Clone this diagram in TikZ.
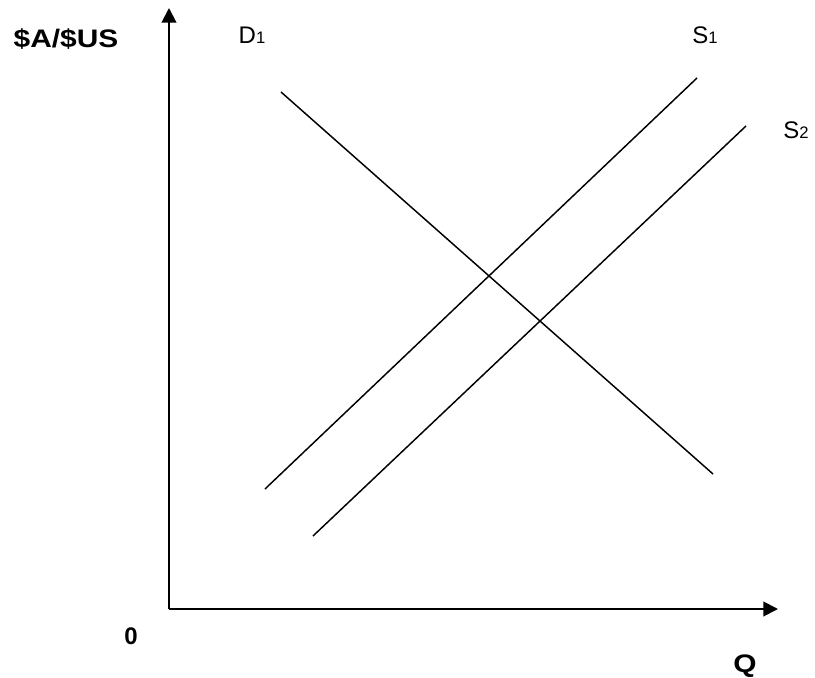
\documentclass[tikz,border=0pt]{standalone}
\usepackage{fontspec}
\setmainfont{Liberation Sans}
\newfontfamily\widesans[FakeStretch=1.18]{Liberation Sans}
\usetikzlibrary{arrows.meta}
\newcommand{\sub}[1]{{\fontsize{12.5}{14}\selectfont #1}}
\tikzset{
  axis/.style={line width=1.5pt, -{Triangle[length=11pt,width=11pt]}},
  curve/.style={line width=1.1pt},
  lbl/.style={anchor=base, inner sep=0pt, font=\fontsize{18}{21}\selectfont},
  axlbl/.style={anchor=base, inner sep=0pt, font=\widesans\fontsize{19}{22}\selectfont\bfseries},
  origin/.style={anchor=base, inner sep=0pt, font=\fontsize{18}{21}\selectfont\bfseries}
}
\begin{document}
\begin{tikzpicture}[x=0.75pt, y=-0.75pt]
    \useasboundingbox (0,0) rectangle (815,678);

    % Sumbu
    \coordinate (O) at (169,609);
    \coordinate (ytip) at (169,8);
    \coordinate (xtip) at (778,609);
    \draw[axis] (O) -- (ytip);
    \draw[axis] (O) -- (xtip);

    % Kurva permintaan dan penawaran
    \coordinate (D1a) at (281,92);
    \coordinate (D1b) at (713,474);
    \coordinate (S1a) at (265,489);
    \coordinate (S1b) at (697,78);
    \coordinate (S2a) at (313,536);
    \coordinate (S2b) at (746,126);
    \draw[curve] (D1a) -- (D1b);
    \draw[curve] (S1a) -- (S1b);
    \draw[curve] (S2a) -- (S2b);

    % Label
    \node[axlbl] (price) at (66,47) {\$A/\$US};
    \node[axlbl] (qty) at (745,672) {Q};
    \node[origin] (zero) at (131,644) {0};
    \node[lbl] (d1) at (252,43) {D\sub{1}};
    \node[lbl] (s1) at (705,43) {S\sub{1}};
    \node[lbl] (s2) at (796,138) {S\sub{2}};
\end{tikzpicture}
\end{document}
